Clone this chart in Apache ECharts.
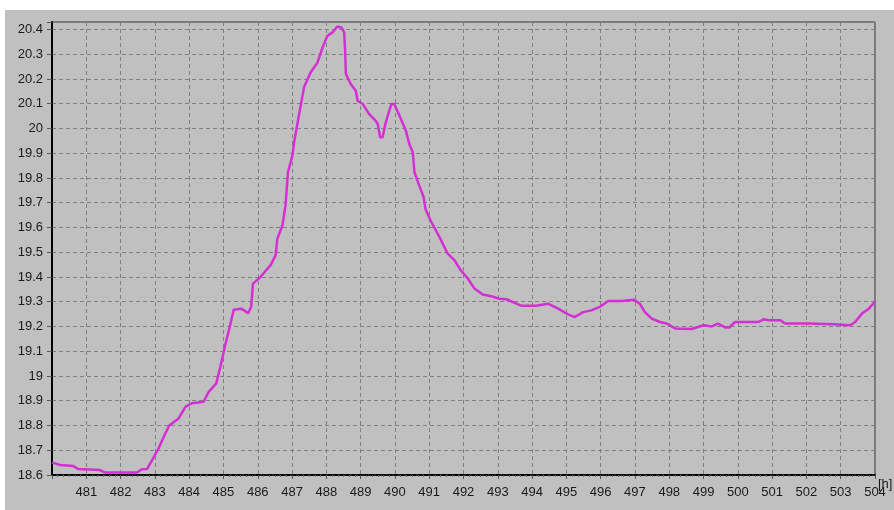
<!DOCTYPE html>
<html>
<head>
<meta charset="utf-8">
<script src="https://cdn.jsdelivr.net/npm/echarts@6/dist/echarts.min.js"></script>
<style>
  html, body { margin: 0; padding: 0; background: #ffffff; }
  #main { width: 894px; height: 510px; }
</style>
</head>
<body>
<div id="main"></div>
<script type="text/javascript">
	var chart = echarts.init(document.getElementById('main'));

	// time [h] and temperature
	var hours = [
		480.00, 480.09, 480.25, 480.62, 480.77, 481.40, 481.55, 482.48, 482.62, 482.77,
		482.92, 483.11, 483.26, 483.42, 483.69, 483.89, 484.08, 484.42, 484.57, 484.79,
		484.91, 485.06, 485.16, 485.30, 485.52, 485.72, 485.81, 485.86, 486.08, 486.28,
		486.37, 486.52, 486.57, 486.72, 486.81, 486.88, 487.01, 487.06, 487.20, 487.35,
		487.54, 487.74, 487.89, 488.03, 488.18, 488.32, 488.44, 488.52, 488.55, 488.57,
		488.71, 488.86, 488.91, 489.06, 489.25, 489.44, 489.50, 489.57, 489.64, 489.71,
		489.79, 489.90, 489.98, 490.13, 490.32, 490.42, 490.52, 490.57, 490.71, 490.84,
		490.89, 491.05, 491.30, 491.54, 491.74, 491.92, 492.13, 492.32, 492.56, 492.81,
		493.05, 493.25, 493.68, 494.12, 494.46, 494.76, 495.05, 495.24, 495.49, 495.73,
		495.97, 496.22, 496.61, 496.98, 497.14, 497.29, 497.49, 497.73, 497.92, 498.17,
		498.65, 499.00, 499.24, 499.42, 499.63, 499.75, 499.92, 500.31, 500.60, 500.75,
		500.90, 501.24, 501.38, 502.07, 502.80, 503.28, 503.42, 503.62, 503.82, 504.00
	];
	var temps = [
		18.650, 18.647, 18.640, 18.636, 18.624, 18.620, 18.610, 18.610, 18.623, 18.624,
		18.660, 18.708, 18.755, 18.800, 18.828, 18.875, 18.890, 18.896, 18.936, 18.970,
		19.037, 19.130, 19.185, 19.268, 19.272, 19.254, 19.280, 19.373, 19.400, 19.433,
		19.447, 19.487, 19.554, 19.608, 19.689, 19.823, 19.890, 19.944, 20.052, 20.166,
		20.226, 20.266, 20.327, 20.374, 20.388, 20.412, 20.408, 20.388, 20.307, 20.220,
		20.180, 20.152, 20.112, 20.099, 20.058, 20.031, 20.018, 19.964, 19.964, 20.011,
		20.052, 20.099, 20.099, 20.052, 19.991, 19.937, 19.904, 19.823, 19.769, 19.722,
		19.675, 19.625, 19.561, 19.494, 19.467, 19.427, 19.393, 19.353, 19.329, 19.322,
		19.312, 19.310, 19.284, 19.284, 19.292, 19.272, 19.249, 19.238, 19.258, 19.265,
		19.279, 19.303, 19.303, 19.308, 19.292, 19.258, 19.232, 19.218, 19.212, 19.192,
		19.190, 19.205, 19.200, 19.212, 19.196, 19.196, 19.218, 19.218, 19.218, 19.229,
		19.225, 19.225, 19.212, 19.212, 19.209, 19.205, 19.218, 19.252, 19.272, 19.300
	];

	var points = hours.map(function (h, i) { return [h, temps[i]]; });

	var labelFont = { fontFamily: 'Liberation Sans, Arial, sans-serif', fontSize: 13, color: '#1a1a1a' };
	var gridDash = { color: '#808080', width: 1, type: [4, 3] };

	var option = {
		animation: false,
		backgroundColor: '#ffffff',
		// grey panel behind everything
		graphic: [{
			type: 'rect',
			z: -10,
			shape: { x: 5, y: 10, width: 889, height: 500 },
			style: { fill: '#c0c0c0' }
		}],
		grid: {
			left: 52, top: 22, right: 19, bottom: 35,
			outerBoundsMode: 'none',
			containLabel: false,
			show: true,
			backgroundColor: '#c0c0c0',
			borderColor: '#333333',
			borderWidth: 1
		},
		xAxis: {
			type: 'value',
			min: 480,
			max: 504,
			interval: 1,
			name: '[h]',
			nameLocation: 'end',
			nameGap: 3,
			nameMoveOverlap: false,
			nameTextStyle: {
				fontFamily: 'Liberation Sans, Arial, sans-serif', fontSize: 13, color: '#1a1a1a',
				align: 'left', verticalAlign: 'top', padding: [3, 0, 0, 0]
			},
			axisLine: { show: true, lineStyle: { color: '#000000', width: 2, type: [4, 2] } },
			axisTick: { show: true, length: 4, lineStyle: { color: '#555555' } },
			minorTick: { show: true, splitNumber: 6, length: 2, lineStyle: { color: '#666666' } },
			axisLabel: Object.assign({
				margin: 11,
				formatter: function (v) { return v === 480 ? '' : String(v); }
			}, labelFont),
			splitLine: { show: true, lineStyle: gridDash }
		},
		yAxis: {
			type: 'value',
			min: 18.6,
			max: 20.43,
			interval: 0.1,
			axisLine: { show: true, lineStyle: { color: '#000000', width: 2 } },
			axisTick: { show: true, length: 5, lineStyle: { color: '#555555' } },
			axisLabel: Object.assign({
				margin: 9,
				formatter: function (v) {
					var k = Math.round(v * 10);
					if (Math.abs(v * 10 - k) > 0.01) return '';
					return String(parseFloat((k / 10).toFixed(1)));
				}
			}, labelFont),
			splitLine: { show: true, lineStyle: gridDash }
		},
		series: [{
			type: 'line',
			data: points,
			showSymbol: false,
			smooth: false,
			lineStyle: { color: '#d42fd4', width: 2.5 },
			itemStyle: { color: '#d42fd4' }
		}]
	};
	chart.setOption(option);
</script>
</body>
</html>
